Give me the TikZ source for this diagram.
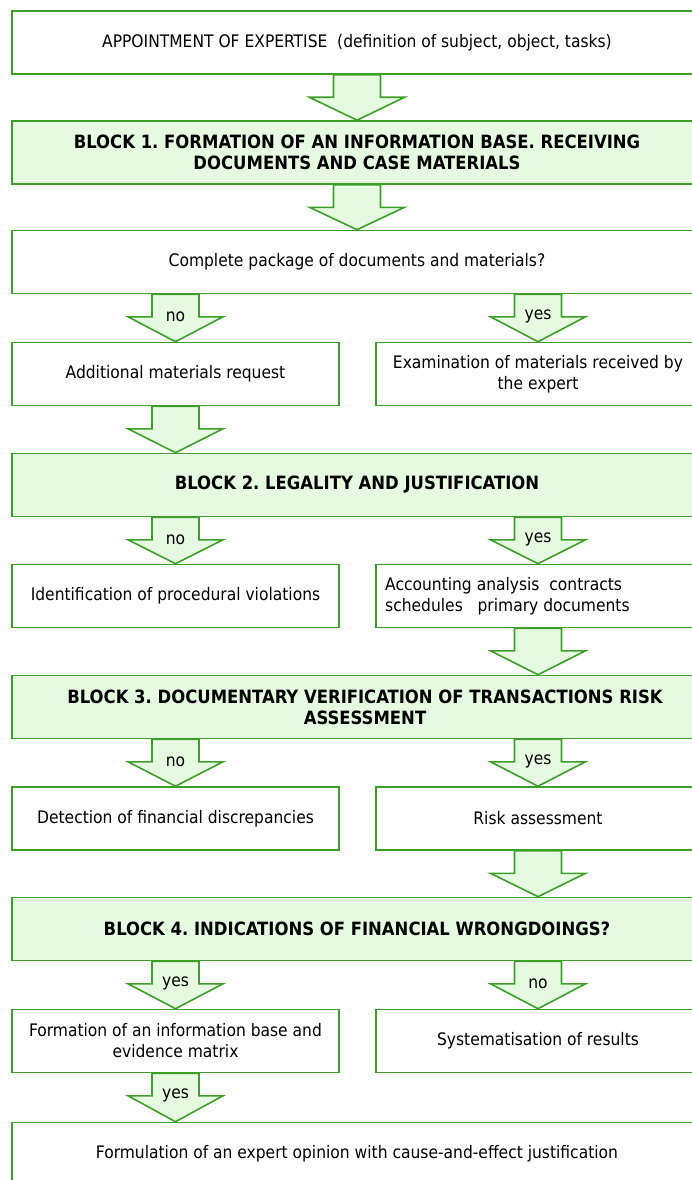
\documentclass[tikz,border=0pt]{standalone}
\usepackage{fontspec}
\setmainfont{DejaVu Sans Condensed}
\frenchspacing
\usetikzlibrary{calc}
\definecolor{dgreen}{RGB}{60,160,40}
\definecolor{lgreen}{RGB}{230,250,225}
\tikzset{
  box/.style={draw=dgreen, line width=1.6pt, fill=white, minimum height=63pt,
    inner sep=0pt, align=center, font=\fontsize{17.25}{21}\selectfont},
  fullbox/.style={box, minimum width=690pt},
  blockbox/.style={fullbox, fill=lgreen, font=\fontsize{18.3}{21}\selectfont\bfseries},
  leftbox/.style={box, minimum width=327pt},
  rightbox/.style={box, minimum width=324pt},
  arr/.style={draw=dgreen, fill=lgreen, line width=1.6pt, line join=miter},
  lbl/.style={font=\fontsize{17.25}{21}\selectfont, inner sep=0pt},
  txt/.style={font=\fontsize{17.25}{21}\selectfont, inner sep=0pt, align=left}
}
% #1 node giving x, #2 from node, #3 to node, #4 label
\newcommand\blockarrow[4]{%
  \coordinate (s) at (#1.center |- #2.south);
  \coordinate (t) at (#1.center |- #3.north);
  \draw[arr] ($(s)+(-23.5,0)$) -- ($(s)+(23.5,0)$) -- ($(s)+(23.5,22.5)$)
    -- ($(s)+(47.5,22.5)$) -- (t) -- ($(s)+(-47.5,22.5)$)
    -- ($(s)+(-23.5,22.5)$) -- cycle;
  \node[lbl] at ($(s)+(0,22.5)$) {#4};
}
\begin{document}
\begin{tikzpicture}[x=1pt, y=-1pt]
\useasboundingbox (0,0) rectangle (692,1180);
\clip (0,0) rectangle (692,1180);

\node[fullbox] (A) at (357,42.5) {APPOINTMENT OF EXPERTISE~ (definition of subject, object, tasks)};
\node[blockbox] (B1) at (357,152.5) {BLOCK 1. FORMATION OF AN INFORMATION BASE. RECEIVING\\DOCUMENTS AND CASE MATERIALS};
\node[fullbox] (C) at (357,262) {Complete package of documents and materials?};

\node[leftbox] (L1) at (175.5,374) {Additional materials request};
\node[rightbox] (R1) at (538,374) {Examination of materials received by\\the expert};

\node[blockbox] (B2) at (357,485) {BLOCK 2. LEGALITY AND JUSTIFICATION};

\node[leftbox] (L2) at (175.5,596) {Identification of procedural violations};
\node[rightbox] (R2) at (538,596) {};
\node[txt, anchor=west] (acct) at (385,596) {Accounting analysis~ contracts\\schedules~~ primary documents};

\node[blockbox] (B3) at (357,707) {\hspace*{16pt}BLOCK 3. DOCUMENTARY VERIFICATION OF TRANSACTIONS RISK\\\hspace*{16pt}ASSESSMENT};

\node[leftbox] (L3) at (175.5,818.5) {Detection of financial discrepancies};
\node[rightbox] (R3) at (538,818.5) {Risk assessment};

\node[blockbox] (B4) at (357,929) {BLOCK 4. INDICATIONS OF FINANCIAL WRONGDOINGS?};

\node[leftbox] (L4) at (175.5,1041) {Formation of an information base and\\evidence matrix};
\node[rightbox] (R4) at (538,1041) {Systematisation of results};

\node[fullbox] (F) at (357,1154) {Formulation of an expert opinion with cause-and-effect justification};

\blockarrow{A}{A}{B1}{}
\blockarrow{A}{B1}{C}{}
\blockarrow{L1}{C}{L1}{no}
\blockarrow{R1}{C}{R1}{yes}
\blockarrow{L1}{L1}{B2}{}
\blockarrow{L2}{B2}{L2}{no}
\blockarrow{R2}{B2}{R2}{yes}
\blockarrow{R2}{R2}{B3}{}
\blockarrow{L3}{B3}{L3}{no}
\blockarrow{R3}{B3}{R3}{yes}
\blockarrow{R3}{R3}{B4}{}
\blockarrow{L4}{B4}{L4}{yes}
\blockarrow{R4}{B4}{R4}{no}
\blockarrow{L4}{L4}{F}{yes}
\end{tikzpicture}
\end{document}
